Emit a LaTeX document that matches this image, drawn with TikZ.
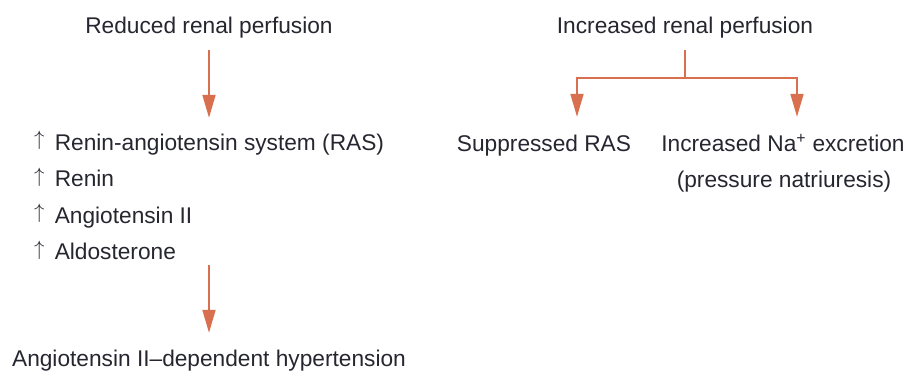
\documentclass[tikz,border=0pt]{standalone}
\usepackage{fontspec}
\setmainfont{Liberation Sans}
\usepackage{xcolor}
\usetikzlibrary{arrows.meta,positioning}
\definecolor{FlowOrange}{RGB}{216,112,80}
\definecolor{InkGray}{RGB}{38,38,48}
\newcommand{\rises}{\raisebox{0.19em}{$\uparrow$}\hspace{0.45em}}
\tikzset{
  lbl/.style={font=\fontsize{22.7}{27}\selectfont,text=InkGray,inner sep=0pt,
              text height=17pt,text depth=5pt,anchor=base},
  item/.style={lbl,anchor=base west},
  flow/.style={-{Triangle[length=23pt,width=13pt]},line width=1.8pt,FlowOrange},
  split/.style={line width=1.8pt,FlowOrange},
}

\begin{document}
\begin{tikzpicture}[x=1pt,y=-1pt]
  \useasboundingbox (0,0) rectangle (907,376);
  % left branch
  \node[lbl] (reduced) at (209,33) {Reduced renal perfusion};
  \node[item] (ras) at (34,150) {\rises Renin-angiotensin system (RAS)};
  \node[item,below=14.5pt of ras.south west,anchor=north west] (renin) {\rises Renin};
  \node[item,below=14pt of renin.south west,anchor=north west] (angio) {\rises Angiotensin II};
  \node[item,below=14pt of angio.south west,anchor=north west] (aldo) {\rises Aldosterone};
  \node[lbl] (hyper) at (209,366) {Angiotensin II–dependent hypertension};
  \draw[flow,shorten <=12pt,shorten >=15pt] (reduced.south) -- (reduced.south |- ras.north);
  \draw[flow,shorten >=16pt] (aldo.south -| hyper.north) -- (hyper.north);
  % right branch
  \node[lbl] (increased) at (685,33) {Increased renal perfusion};
  \node[lbl] (suppressed) at (544,151) {Suppressed RAS};
  \node[lbl] (natri) at (783,151) {Increased Na\textsuperscript{+} excretion};
  \node[lbl] (natri2) at (784,187) {(pressure natriuresis)};
  \coordinate (fork) at (685,78);
  \draw[split,shorten <=12pt] (increased.south) -- (fork);
  \draw[flow,shorten >=17pt] (fork) -| ([xshift=33pt]suppressed.north);
  \draw[flow,shorten >=17pt] (fork) -| ([xshift=14pt]natri.north);
\end{tikzpicture}
\end{document}
